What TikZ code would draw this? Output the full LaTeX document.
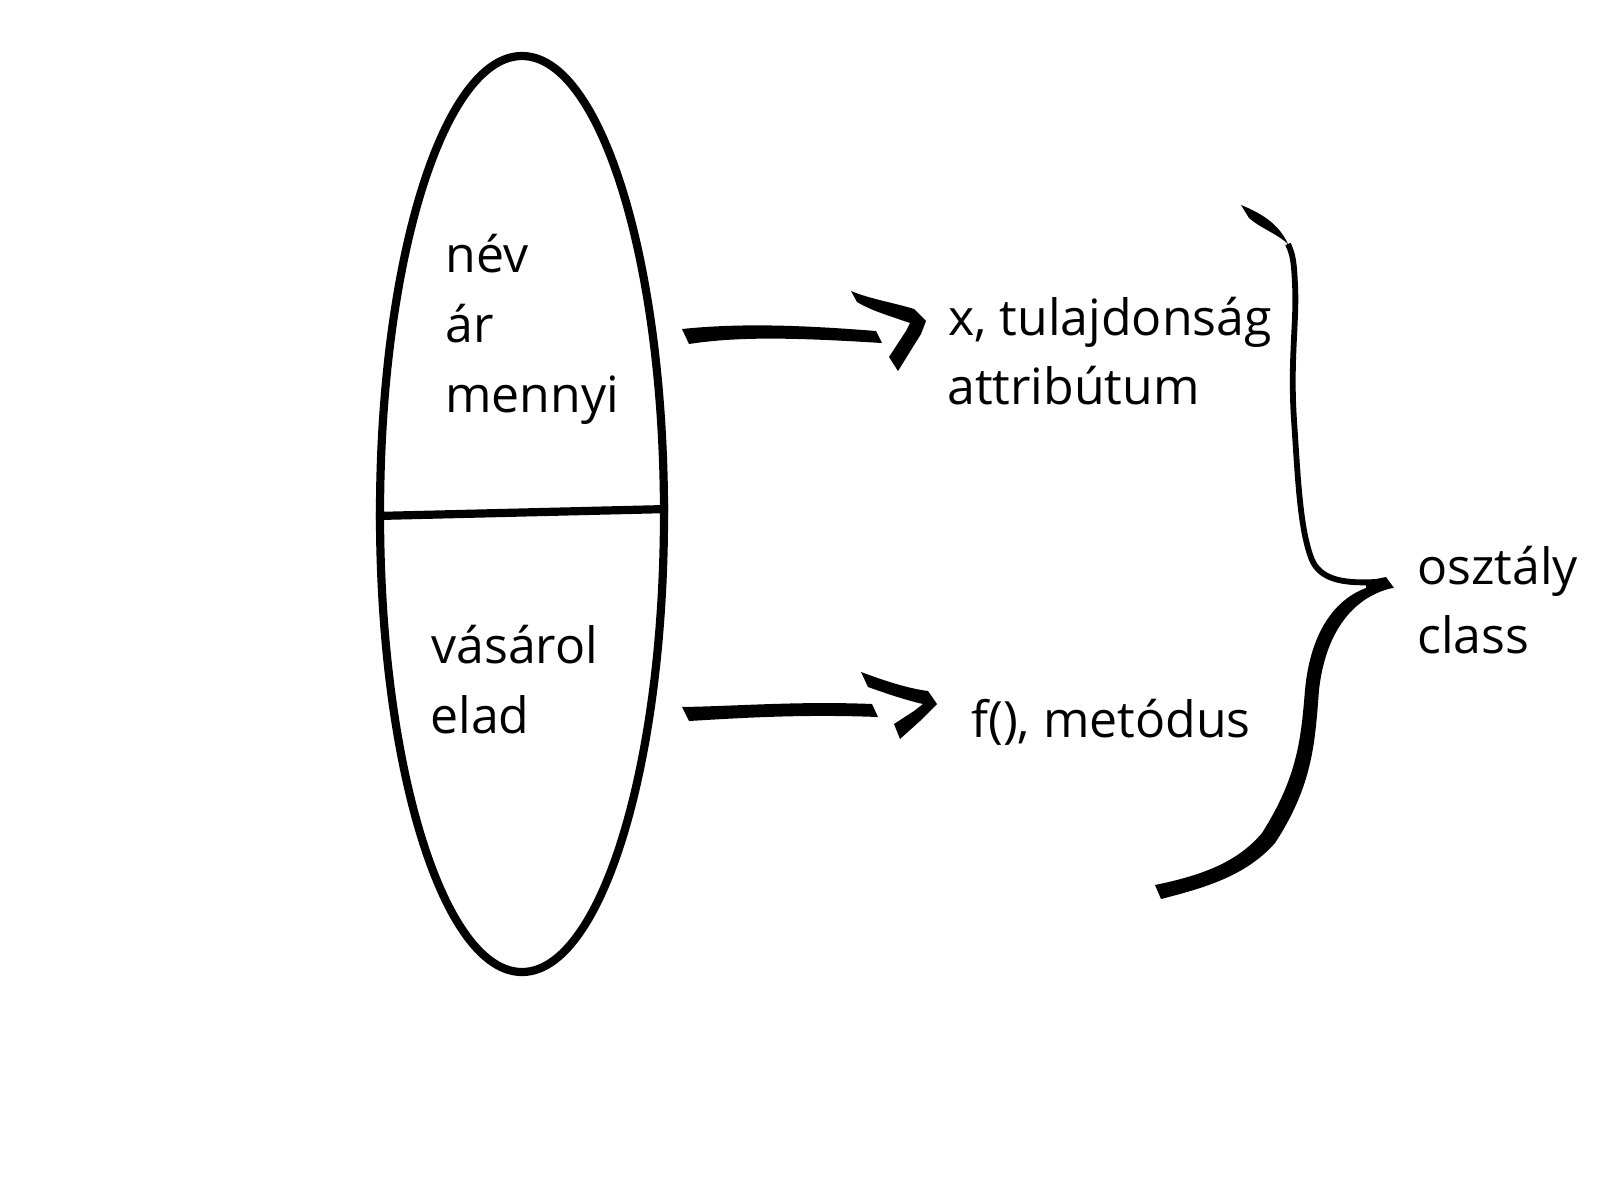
\documentclass[tikz,border=0pt]{standalone}
\usepackage{fontspec}
\setmainfont{Open Sans}
\usetikzlibrary{shapes.geometric,calc}
\begin{document}
\begin{tikzpicture}[x=0.5pt,y=-0.5pt,
  lbl/.style={anchor=base west, inner sep=0pt, font=\fontsize{25pt}{35pt}\selectfont},
  ink/.style={fill=black, draw=none},
  outline/.style={draw=black, line width=4.1pt},
  thinstroke/.style={draw=black, line width=2.9pt, line cap=butt}]
\useasboundingbox (0,0) rectangle (1600,1200);
\fill[white] (0,0) rectangle (1600,1200);

% object ellipse
\node[ellipse, outline, minimum width=142pt, minimum height=458pt, inner sep=0pt] (obj) at (522,514) {};
\draw[outline] ($(obj.west)+(0,2)$) -- ($(obj.east)+(0,-5)$);

% texts
\node[lbl] (nev) at (445,272) {név};
\node[lbl] (ar) at (445,342) {ár};
\node[lbl] (mennyi) at (445,412) {mennyi};
\node[lbl] (vasarol) at (431,663) {vásárol};
\node[lbl] (elad) at (430,733) {elad};
\node[lbl] (xtul) at (948,335) {x, tulajdonság};
\node[lbl] (attr) at (947,404) {attribútum};
\node[lbl] (fmet) at (971,737) {f(), metódus};
\node[lbl] (osztaly) at (1417,584) {osztály};
\node[lbl] (class) at (1417,653) {class};

% arrow 1 (attributes)
\coordinate (a1s) at (682,329);
\coordinate (a1e) at (876,331);
\fill[ink] (a1s) .. controls (740,323) and (800,325) .. (a1e) -- (882,343)
  .. controls (800,338) and (740,336) .. (689,344) -- cycle;
\coordinate (h1) at (851,291);
\fill[ink] (h1) .. controls (870,299) and (895,303) .. (914,309)
  -- (926,321) -- (921,334) -- (898,371) -- (889,357) -- (906,331) -- (910,323)
  .. controls (890,316) and (872,311) .. (857,302) -- cycle;

% arrow 2 (methods)
\coordinate (a2s) at (682,707);
\coordinate (a2e) at (872,704);
\fill[ink] (a2s) .. controls (740,706) and (800,701) .. (a2e) -- (878,717)
  .. controls (800,714) and (740,718) .. (689,721) -- cycle;
\coordinate (h2) at (861,672);
\fill[ink] (h2) .. controls (880,679) and (905,688) .. (928,691)
  -- (937,704) -- (920,721) -- (900,739) -- (894,724) -- (914,711) -- (923,704)
  .. controls (905,700) and (885,693) .. (868,687) -- cycle;

% brace to "class"
\coordinate (btop) at (1241,205);
\coordinate (btwist) at (1288,244);
\coordinate (btip) at (1393,584);
\coordinate (bbot) at (1158,892);
% top flare
\fill[ink] (btop) .. controls (1258,212) and (1278,222) .. (btwist)
  .. controls (1276,233) and (1260,228) .. (1249,218) -- cycle;
% long thin part
\draw[thinstroke] (btwist) .. controls (1293,255) and (1294,262) .. (1295,285)
  .. controls (1297,320) and (1290,360) .. (1294,420)
  .. controls (1298,480) and (1300,530) .. (1312,560)
  .. controls (1320,578) and (1340,584) .. (1375,582);
% tip wedge
\fill[ink] (1366,581) -- (1386,577) -- (1394,588) -- (1366,589) -- cycle;
% thick lower part
\fill[ink] (1390,583) .. controls (1342,586) and (1311,625) .. (1305,690)
  .. controls (1301,738) and (1298,776) .. (1262,833)
  .. controls (1236,864) and (1198,876) .. (1155,885) -- (1161,899)
  .. controls (1204,888) and (1246,876) .. (1275,843)
  .. controls (1313,785) and (1315,742) .. (1319,690)
  .. controls (1325,636) and (1350,598) .. (1392,588) -- cycle;
\end{tikzpicture}
\end{document}
